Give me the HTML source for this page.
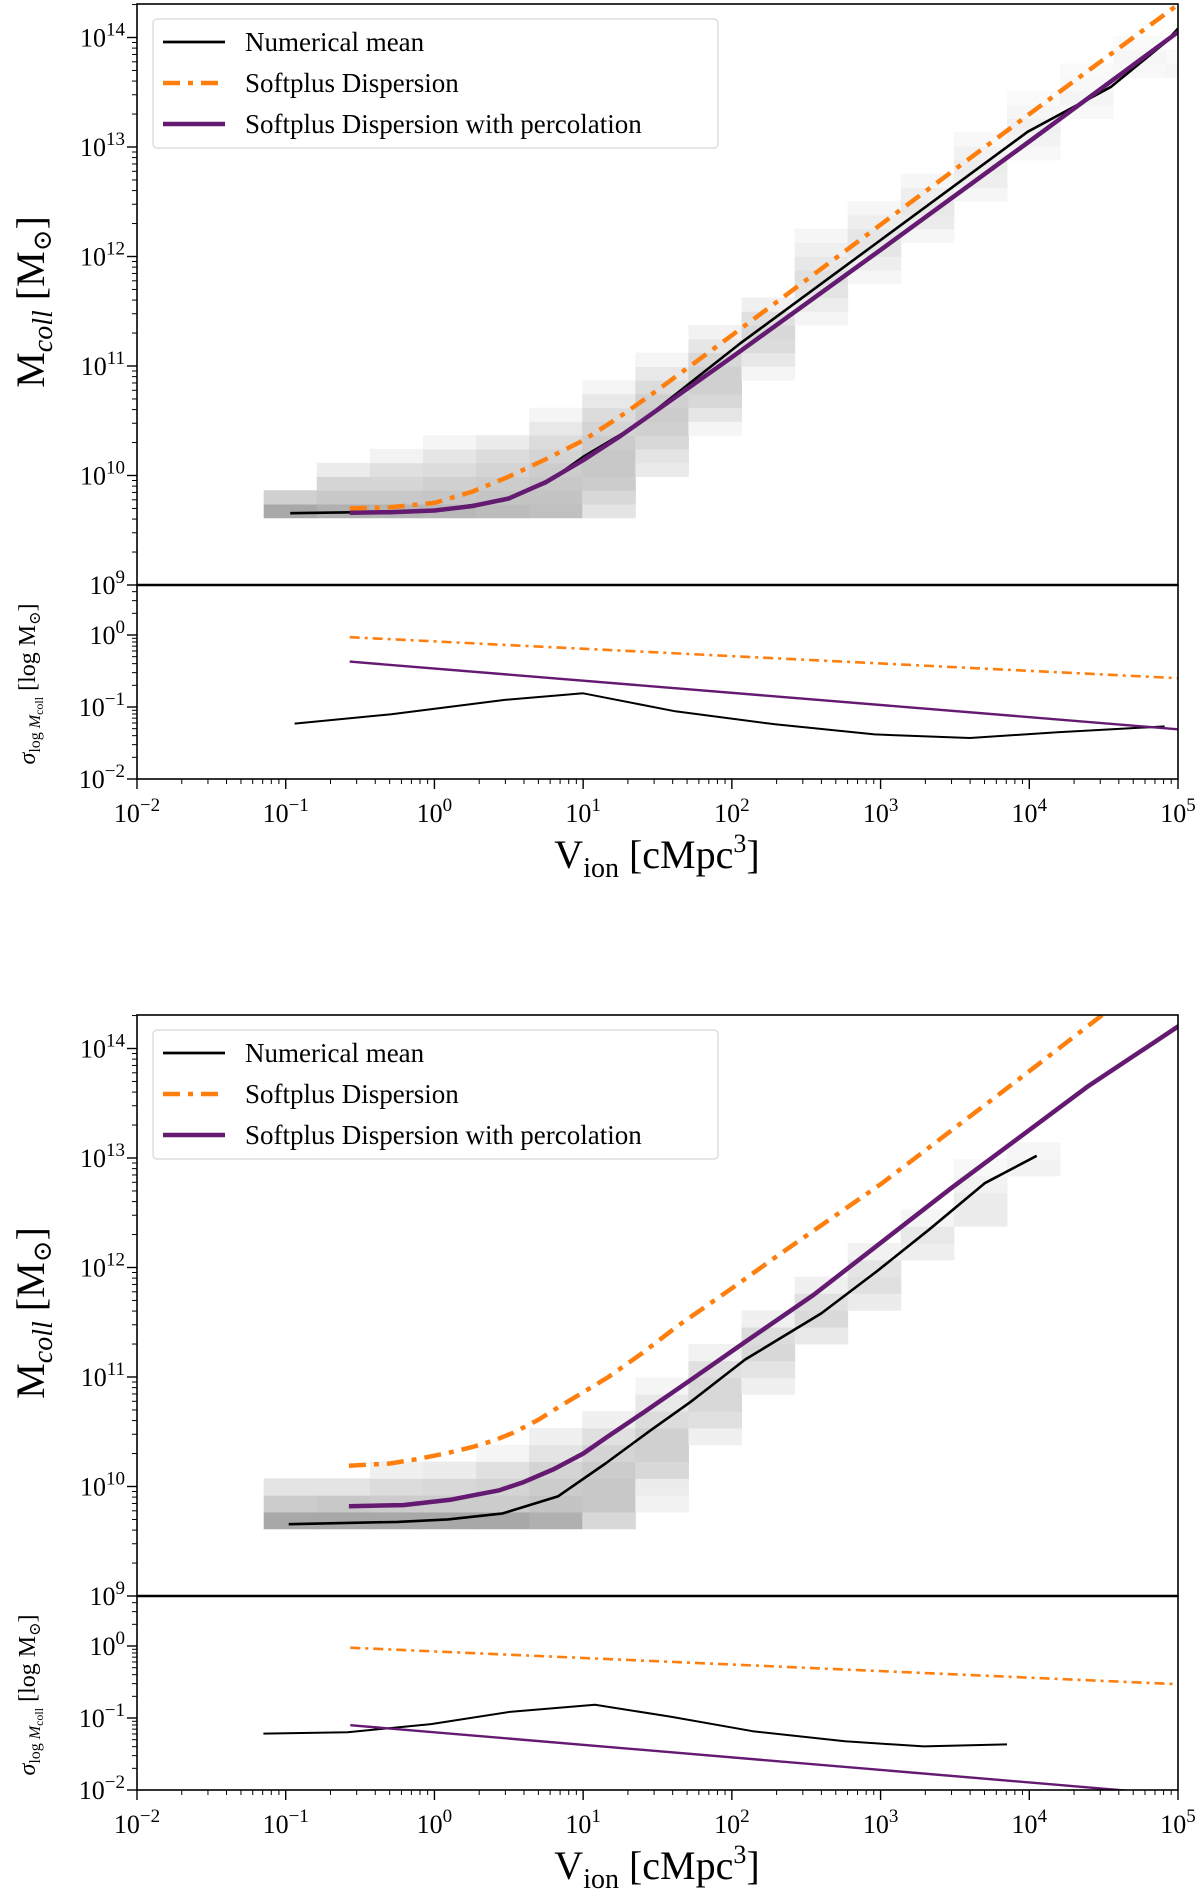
<!DOCTYPE html>
<html>
<head>
<meta charset="utf-8">
<style>
html,body{margin:0;padding:0;background:#fff;}
svg{display:block;}
text{font-family:"Liberation Serif","DejaVu Serif",serif;fill:#000;}
</style>
</head>
<body>
<svg id="fig" width="1200" height="1897" viewBox="0 0 1200 1897" xmlns="http://www.w3.org/2000/svg"></svg>
<script>
// ---------- Panel A (top) data ----------
const aMeanX = [-0.97,-0.5,0,0.46,0.75,1.0,1.36,2.05,2.96,3.99,4.55,4.91,5.0];
const aMeanY = [9.656,9.665,9.68,9.77,9.93,10.17,10.46,11.2,12.11,13.14,13.55,13.95,14.08];
const aSoftX = [-0.57,-0.3,0,0.25,0.5,0.75,1.0,1.25,1.5,2.0,3.0,4.0,5.0];
const aSoftY = [9.70,9.71,9.75,9.85,9.99,10.15,10.32,10.54,10.78,11.28,12.29,13.3,14.3];
const aPercX = [-0.57,-0.3,0,0.25,0.5,0.75,1.0,1.25,1.5,2.0,3.0,4.0,5.0];
const aPercY = [9.66,9.665,9.68,9.72,9.79,9.94,10.14,10.36,10.6,11.08,12.06,13.05,14.05];
const aSigMeanX = [-0.94,-0.29,0.48,1.0,1.62,2.29,2.96,3.6,4.19,4.91];
const aSigMeanY = [-1.23,-1.1,-0.9,-0.81,-1.06,-1.24,-1.38,-1.43,-1.35,-1.27];
const aSigSoftX = [-0.57,5.0];
const aSigSoftY = [-0.03,-0.6];
const aSigPercX = [-0.57,5.0];
const aSigPercY = [-0.37,-1.31];
const aHmStart = [0,0,0,0,0,0,0,3,6,10,14,17,20,23,26,29,32,32];
const aHmGray = [
 [168,208],[176,200,213,236],[180,200,214,224,243],[184,198,208,220,230,245],
 [188,196,204,212,220,236],[192,196,200,204,212,220,232,245],
 [228,216,204,200,200,204,212,220,232,245],[234,228,216,208,204,208,220,232,245],
 [245,230,216,208,208,216,230,242],[245,232,220,216,224,240],
 [245,236,228,224,232,240,246],[246,238,230,230,238,246],[246,236,232,238,246],
 [246,238,236,242,248],[248,242,240,246,250],[248,244,248,250],[248,246,250],[246,250]];

// ---------- Panel B (bottom) data ----------
const bMeanX = [-0.98,-0.25,0.09,0.46,0.83,1.15,1.45,1.72,2.09,2.6,2.97,3.33,3.70,4.05];
const bMeanY = [9.656,9.677,9.70,9.754,9.91,10.21,10.51,10.77,11.16,11.58,11.96,12.35,12.77,13.02];
const bSoftX = [-0.575,-0.3,-0.115,0.1,0.253,0.4,0.53,0.7,0.805,1.0,1.17,1.4,1.63,2.0,2.32,3.01,3.93,4.6];
const bSoftY = [10.19,10.21,10.25,10.31,10.36,10.42,10.49,10.61,10.70,10.86,11.0,11.22,11.46,11.81,12.12,12.77,13.72,14.42];
const bPercX = [-0.575,-0.21,0.115,0.3,0.437,0.6,0.805,1.0,1.17,1.4,1.72,2.1,2.55,3.47,4.39,5.01];
const bPercY = [9.82,9.83,9.88,9.93,9.965,10.04,10.16,10.3,10.46,10.67,10.97,11.33,11.75,12.72,13.65,14.21];
const bSigMeanX = [-1.15,-0.584,-0.023,0.506,1.08,1.586,2.14,2.76,3.29,3.85];
const bSigMeanY = [-1.216,-1.197,-1.085,-0.915,-0.817,-0.981,-1.183,-1.324,-1.394,-1.366];
const bSigSoftX = [-0.566,5.0];
const bSigSoftY = [-0.023,-0.53];
const bSigPercX = [-0.566,5.0];
const bSigPercY = [-1.10,-2.07];
const bHmStart = [0,0,0,0,0,0,0,1,5,8,11,13,16,18,21];
const bHmGray = [
 [168,204,228],[168,200,228],[168,204,220,240],[168,204,216,236],[168,204,212,224,245],
 [176,196,204,212,228,240],[216,200,200,204,212,224,240],[242,236,216,208,208,220,232,245],
 [240,224,216,216,224,242],[240,228,216,220,240],[232,218,224,240],[236,224,228,242],
 [238,232,245],[236,236,242,248],[242,246]];

const xTickExp = [-2,-1,0,1,2,3,4,5];
const mTickExp = [9,10,11,12,13,14];
const sTickExp = [-2,-1,0];
const legendLabels = ["Numerical mean","Softplus Dispersion","Softplus Dispersion with percolation"];

const NS="http://www.w3.org/2000/svg";
const svg=document.getElementById('fig');
function mk(tag,attrs,parent){const e=document.createElementNS(NS,tag);for(const k in attrs)e.setAttribute(k,attrs[k]);(parent||svg).appendChild(e);return e;}

const L=137,R=1178;
function sx(v){return L+(v+2)*(R-L)/7;}

function drawPanel(off, P, pid){
  const top=4+off, mid=585+off, bot=779+off;
  const syM=v=>mid-(v-9)*109.5;
  const syS=v=>bot-(v+2)*72;
  const g=mk('g',{});
  
  
  const defs=mk('defs',{},g);
  const c1=mk('clipPath',{id:'cm'+pid},defs); mk('rect',{x:L,y:top,width:R-L,height:mid-top},c1);
  const c2=mk('clipPath',{id:'cs'+pid},defs); mk('rect',{x:L,y:mid,width:R-L,height:bot-mid},c2);
  const hg=mk('g',{'clip-path':'url(#cm'+pid+')'},g);
  
  
  const colW=0.357, x0=-1.148, y0=9.614, rh=P.rowH;
  P.hmGray.forEach((col,ci)=>{
    col.forEach((gv,ri)=>{
      const r=P.hmStart[ci]+ri;
      const xa=sx(x0+ci*colW), xb=sx(x0+(ci+1)*colW);
      const ya=syM(y0+(r+1)*rh), yb=syM(y0+r*rh);
      const rc=mk('rect',{x:xa,y:ya,width:xb-xa+0.5,height:yb-ya+0.5,fill:`rgb(${gv},${gv},${gv})`},hg);
      
      
    });
  });
  function line(X,Y,sy,clip,attrs,name){
    let d='';X.forEach((v,i)=>{d+=(i?'L':'M')+sx(v).toFixed(1)+','+sy(Y[i]).toFixed(1);});
    const p=mk('path',Object.assign({d:d,fill:'none','clip-path':'url(#'+clip+')','stroke-linejoin':'round'},attrs),g);
    
    
  }
  line(P.meanX,P.meanY,syM,'cm'+pid,{stroke:'#000','stroke-width':2.6},'numerical-mean-line');
  line(P.percX,P.percY,syM,'cm'+pid,{stroke:'#641a70','stroke-width':4.5},'softplus-percolation-line');
  line(P.softX,P.softY,syM,'cm'+pid,{stroke:'#ff7f0e','stroke-width':4.5,'stroke-dasharray':'17,8,5,8'},'softplus-dispersion-line');
  line(P.sMeanX,P.sMeanY,syS,'cs'+pid,{stroke:'#000','stroke-width':2},'sigma-numerical-mean-line');
  line(P.sPercX,P.sPercY,syS,'cs'+pid,{stroke:'#641a70','stroke-width':2.4},'sigma-percolation-line');
  line(P.sSoftX,P.sSoftY,syS,'cs'+pid,{stroke:'#ff7f0e','stroke-width':2.6,'stroke-dasharray':'10,5,3,5'},'sigma-softplus-line');
  const f1=mk('rect',{x:L,y:top,width:R-L,height:mid-top,fill:'none',stroke:'#000','stroke-width':1.6},g);
  
  const f2=mk('rect',{x:L,y:mid,width:R-L,height:bot-mid,fill:'none',stroke:'#000','stroke-width':1.6},g);
  
  mk('line',{x1:L,x2:R,y1:mid,y2:mid,stroke:'#000','stroke-width':2.4},g);
  for(let d=-2;d<=5;d++){
    const x=sx(d);
    mk('line',{x1:x,x2:x,y1:bot,y2:bot+10,stroke:'#000','stroke-width':1.4},g);
    if(d<5)for(let m=2;m<=9;m++){const xm=sx(d+Math.log10(m));mk('line',{x1:xm,x2:xm,y1:bot,y2:bot+5,stroke:'#000','stroke-width':1},g);}
  }
  xTickExp.forEach(e=>{
    const t=mk('text',{x:sx(e),y:bot+43,'font-size':26,'text-anchor':'middle'},g);
    t.innerHTML='10<tspan dy="-11" font-size="19">'+(e<0?'\u2212'+(-e):e)+'</tspan>';
    
  });
  for(let d=9;d<=14;d++){
    const y=syM(d);
    mk('line',{x1:L-10,x2:L,y1:y,y2:y,stroke:'#000','stroke-width':1.4},g);
    for(let m=2;m<=9;m++){const ym=syM(d+Math.log10(m));if(ym>=top)mk('line',{x1:L-5,x2:L,y1:ym,y2:ym,stroke:'#000','stroke-width':1},g);}
  }
  mTickExp.forEach(e=>{
    const t=mk('text',{x:L-12,y:syM(e)+9,'font-size':26,'text-anchor':'end'},g);
    t.innerHTML='10<tspan dy="-11" font-size="19">'+e+'</tspan>';
    
  });
  for(let d=-2;d<=0;d++){
    const y=syS(d);
    mk('line',{x1:L-10,x2:L,y1:y,y2:y,stroke:'#000','stroke-width':1.4},g);
    for(let m=2;m<=9;m++){const ym=syS(d+Math.log10(m));if(ym>mid)mk('line',{x1:L-5,x2:L,y1:ym,y2:ym,stroke:'#000','stroke-width':1},g);}
  }
  sTickExp.forEach(e=>{
    const t=mk('text',{x:L-12,y:syS(e)+9,'font-size':26,'text-anchor':'end'},g);
    t.innerHTML='10<tspan dy="-11" font-size="19">'+(e<0?'\u2212'+(-e):e)+'</tspan>';
    
  });
  const xl=mk('text',{x:657,y:868+off,'font-size':40,'text-anchor':'middle'},g);
  xl.innerHTML='V<tspan dy="9" font-size="28">ion</tspan><tspan dy="-9"> [cMpc</tspan><tspan dy="-16" font-size="26">3</tspan><tspan dy="16">]</tspan>';
  
  const yl=mk('text',{x:0,y:0,'font-size':40,'text-anchor':'middle',transform:`translate(44,${302+off}) rotate(-90)`},g);
  yl.innerHTML='M<tspan dy="8" font-size="28" font-style="italic">coll</tspan><tspan dy="-8"> [M</tspan><tspan dy="7" font-size="26">\u2299</tspan><tspan dy="-7">]</tspan>';
  
  const sl=mk('text',{x:0,y:0,'font-size':24,'text-anchor':'middle',transform:`translate(35,${684+off}) rotate(-90)`},g);
  sl.innerHTML='<tspan font-style="italic">\u03c3</tspan><tspan dy="5" font-size="16">log </tspan><tspan font-size="16" font-style="italic">M</tspan><tspan dy="3" font-size="12">coll</tspan><tspan dy="-8"> [log M</tspan><tspan dy="5" font-size="16">\u2299</tspan><tspan dy="-5">]</tspan>';
  
  const lg=mk('g',{},g);
  
  mk('rect',{x:153,y:19+off,width:565,height:129,rx:4,fill:'#fff','fill-opacity':0.85,stroke:'#d6d6d6','stroke-width':1.2},lg);
  const styles=[{stroke:'#000','stroke-width':2.8},{stroke:'#ff7f0e','stroke-width':4.5,'stroke-dasharray':'17,8,5,8'},{stroke:'#641a70','stroke-width':4.5}];
  legendLabels.forEach((lab,i)=>{
    const y=42+off+i*41;
    const e=mk('g',{},lg);
    
    mk('line',Object.assign({x1:163,x2:225,y1:y,y2:y},styles[i]),e);
    const t=mk('text',{x:245,y:y+9,'font-size':27},e);
    t.textContent=lab;
  });
}
drawPanel(0,{meanX:aMeanX,meanY:aMeanY,softX:aSoftX,softY:aSoftY,percX:aPercX,percY:aPercY,
  sMeanX:aSigMeanX,sMeanY:aSigMeanY,sSoftX:aSigSoftX,sSoftY:aSigSoftY,sPercX:aSigPercX,sPercY:aSigPercY,
  hmStart:aHmStart,hmGray:aHmGray,rowH:0.1257},'top');
drawPanel(1011,{meanX:bMeanX,meanY:bMeanY,softX:bSoftX,softY:bSoftY,percX:bPercX,percY:bPercY,
  sMeanX:bSigMeanX,sMeanY:bSigMeanY,sSoftX:bSigSoftX,sSoftY:bSigSoftY,sPercX:bSigPercX,sPercY:bSigPercY,
  hmStart:bHmStart,hmGray:bHmGray,rowH:0.1535},'bottom');
</script>
</body>
</html>
